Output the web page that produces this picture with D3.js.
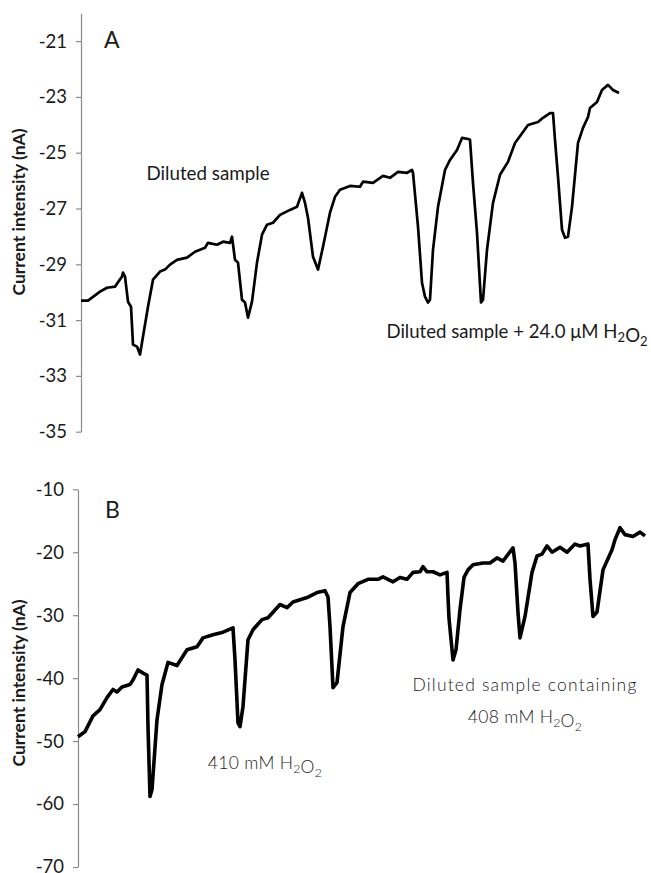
<!DOCTYPE html>
<html>
<head>
<meta charset="utf-8">
<script src="https://cdn.jsdelivr.net/npm/d3@7"></script>
<style>
  html, body { margin: 0; padding: 0; background: #fff; }
  svg { display: block; }
  text { font-family: Lato, "Open Sans", sans-serif; fill: #1a1a1a; }
</style>
</head>
<body>
<div id="chart"></div>
<script>
// Amperometric traces, panel A (diluted sample) and panel B (410 / 408 mM H2O2)

const width = 651;
const height = 873;

// Panel A: time (s) and current (nA)
const timeA = [0, 7, 19, 26, 34, 41, 42, 44, 47, 50, 52, 56, 59, 62, 67, 72, 79, 84, 89, 96,
  106, 114, 124, 127, 136, 142, 149, 151, 154, 157, 161, 164, 167, 171, 176, 181, 186, 192, 199, 209,
  216, 221, 224, 227, 232, 237, 242, 249, 254, 259, 269, 279, 282, 292, 302, 309, 317, 326, 331, 332,
  337, 341, 344, 347, 349, 352, 357, 364, 369, 376, 381, 387, 389, 392, 396, 400, 402, 406, 412, 419,
  427, 434, 442, 447, 457, 462, 469, 472, 474, 477, 481, 484, 487, 491, 497, 502, 507, 509, 516, 521,
  527, 532, 538];
const currentA = [-30.30, -30.30, -29.98, -29.84, -29.80, -29.44, -29.30, -29.44, -30.34, -30.52, -31.88, -31.95, -32.23, -31.59, -30.52, -29.55, -29.26, -29.19, -29.01, -28.84,
  -28.76, -28.55, -28.41, -28.23, -28.30, -28.19, -28.23, -28.01, -28.84, -28.94, -30.27, -30.37, -30.91, -30.34, -28.94, -27.94, -27.58, -27.51, -27.23, -27.05,
  -26.94, -26.44, -26.80, -27.33, -28.73, -29.19, -28.37, -27.15, -26.58, -26.33, -26.19, -26.22, -26.04, -26.08, -25.83, -25.90, -25.69, -25.72, -25.62, -25.72,
  -27.65, -29.66, -30.16, -30.37, -30.27, -28.48, -26.94, -25.62, -25.26, -24.90, -24.47, -24.51, -24.54, -26.08, -27.87, -30.37, -30.27, -28.48, -26.80, -25.79,
  -25.33, -24.65, -24.26, -24.01, -23.90, -23.75, -23.58, -23.58, -24.54, -25.87, -27.76, -28.05, -28.01, -26.94, -24.65, -24.11, -23.72, -23.40, -23.18, -22.75,
  -22.57, -22.75, -22.86];

// Panel B: time (s) and current (nA)
const timeB = [0, 7, 15, 22, 29, 35, 39, 44, 52, 55, 60, 65, 69, 70, 72, 74, 79, 84, 90, 99,
  109, 119, 125, 135, 145, 155, 157, 160, 162, 165, 170, 175, 184, 190, 202, 209, 215, 229, 239, 247,
  250, 252, 255, 259, 265, 272, 280, 290, 300, 305, 315, 322, 329, 335, 342, 345, 349, 355, 362, 369,
  370, 371, 375, 378, 382, 386, 390, 395, 405, 412, 419, 425, 435, 437, 440, 442, 447, 454, 459, 464,
  469, 474, 482, 489, 497, 502, 510, 512, 515, 519, 525, 534, 537, 542, 547, 555, 562, 567];
const currentB = [-49.3, -48.5, -46.0, -45.0, -43.1, -41.8, -42.2, -41.4, -41.0, -40.3, -38.7, -39.2, -39.5, -47.7, -58.8, -57.7, -46.6, -41.0, -37.5, -38.0,
  -35.5, -35.0, -33.6, -33.1, -32.7, -32.0, -37.1, -47.1, -47.7, -44.5, -33.9, -32.3, -30.7, -30.4, -28.3, -28.8, -27.9, -27.2, -26.4, -26.1,
  -27.1, -31.8, -41.5, -40.7, -31.8, -26.4, -25.0, -24.3, -24.3, -23.9, -24.7, -24.0, -24.3, -23.2, -23.1, -22.3, -23.1, -23.1, -23.6, -23.2,
  -27.1, -30.5, -37.1, -35.5, -29.1, -24.0, -22.8, -22.0, -21.7, -21.7, -20.9, -21.4, -19.3, -21.7, -29.6, -33.6, -30.2, -23.2, -20.6, -20.3,
  -19.0, -20.0, -19.2, -20.0, -18.7, -19.0, -18.7, -24.3, -30.2, -29.5, -22.8, -19.6, -18.0, -16.1, -17.2, -17.5, -16.8, -17.4];

// Axis ticks
const ticksA = [-35, -33, -31, -29, -27, -25, -23, -21];
const ticksB = [-70, -60, -50, -40, -30, -20, -10];

const yTitle = "Current intensity (nA)";

const svg = d3.select("#chart")
  .append("svg")
  .attr("width", width)
  .attr("height", height);

svg.append("rect").attr("width", width).attr("height", height).attr("fill", "#fff");

// ---- Panel A ----
const xA = d3.scaleLinear().domain([0, 540]).range([81, 621]);
const yA = d3.scaleLinear().domain([-35, -20]).range([431.7, 13.2]);

// ---- Panel B ----
const xB = d3.scaleLinear().domain([0, 570]).range([78, 648]);
const yB = d3.scaleLinear().domain([-70, -10]).range([867, 489.3]);

function drawAxis(x0, y, ticks, titleY) {
  const g = svg.append("g")
    .attr("transform", `translate(${x0},0)`)
    .call(d3.axisLeft(y).tickValues(ticks).tickSize(5).tickPadding(9).tickSizeOuter(0));
  g.select(".domain").attr("stroke", "#8a8a8a").attr("stroke-width", 1.2);
  g.selectAll(".tick line").attr("stroke", "#8a8a8a").attr("stroke-width", 1.2);
  g.selectAll(".tick text")
    .attr("font-family", "Lato, 'Open Sans', sans-serif")
    .attr("font-size", 18.5)
    .attr("fill", "#1a1a1a")
    .text(d => d3.format("d")(d).replace("−", "-"));

  svg.append("text")
    .attr("transform", `translate(25,${titleY}) rotate(-90)`)
    .attr("text-anchor", "middle")
    .attr("font-size", 17.5)
    .attr("font-weight", "bold")
    .text(yTitle);
}

drawAxis(81, yA, ticksA, 212);
drawAxis(78, yB, ticksB, 683);

const lineA = d3.line()
  .x((d, i) => xA(timeA[i]))
  .y(d => yA(d));

const lineB = d3.line()
  .x((d, i) => xB(timeB[i]))
  .y(d => yB(d));

svg.append("path")
  .datum(currentA)
  .attr("d", lineA)
  .attr("fill", "none")
  .attr("stroke", "#000")
  .attr("stroke-width", 2.7)
  .attr("stroke-linejoin", "round");

svg.append("path")
  .datum(currentB)
  .attr("d", lineB)
  .attr("fill", "none")
  .attr("stroke", "#000")
  .attr("stroke-width", 3.6)
  .attr("stroke-linejoin", "round");

// Panel letters
svg.append("text").attr("x", 104).attr("y", 48).attr("font-size", 23).text("A");
svg.append("text").attr("x", 105).attr("y", 518).attr("font-size", 23).text("B");

// Annotations; subscripts via tspans
function label(x, y, parts, size, weight, spacing) {
  const t = svg.append("text")
    .attr("x", x).attr("y", y)
    .attr("text-anchor", "middle")
    .attr("font-size", size)
    .attr("font-weight", weight || "normal")
    .attr("letter-spacing", spacing || 0);
  parts.forEach(p => {
    if (p.sub) {
      t.append("tspan").attr("font-size", size * 0.7).attr("dy", 4).text(p.s);
      t.append("tspan").attr("dy", -4).text("");
    } else {
      t.append("tspan").text(p.s);
    }
  });
}

label(208, 180, [{ s: "Diluted sample" }], 18.8);
label(517, 338, [{ s: "Diluted sample + 24.0 μM H" }, { s: "2", sub: true }, { s: "O" }, { s: "2", sub: true }], 18.6);
label(265, 769, [{ s: "410 mM H" }, { s: "2", sub: true }, { s: "O" }, { s: "2", sub: true }], 17.5, 300, 0.3);
label(525, 691, [{ s: "Diluted sample containing" }], 17.5, 300, 1.2);
label(525, 723, [{ s: "408 mM H" }, { s: "2", sub: true }, { s: "O" }, { s: "2", sub: true }], 17.5, 300, 0.3);
</script>
</body>
</html>
